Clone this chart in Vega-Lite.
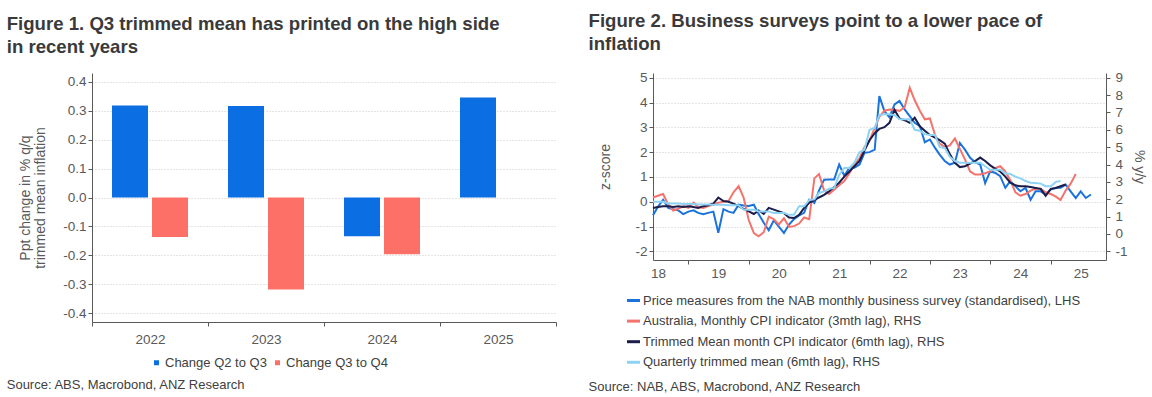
{
  "$schema": "https://vega.github.io/schema/vega-lite/v6.json",
  "padding": {"left": 6, "top": 11, "right": 4, "bottom": 4},
  "spacing": 31,
  "config": {
    "font": "Liberation Sans",
    "view": {"stroke": null},
    "axis": {"labelFont": "Liberation Sans", "labelColor": "#595959", "labelFontSize": 13.5, "titleFont": "Liberation Sans", "titleFontWeight": "normal", "titleColor": "#595959", "titleFontSize": 14, "domainColor": "#595959", "tickColor": "#595959", "gridColor": "#c8c8c8", "gridDash": [1, 2], "labelFlush": false, "labelOverlap": false},
    "legend": {"labelFont": "Liberation Sans", "labelFontSize": 13, "labelColor": "#404040", "labelLimit": 0},
    "title": {"font": "Liberation Sans", "fontSize": 18.6, "fontWeight": "bold", "color": "#3a3a3a", "anchor": "start", "lineHeight": 23.5}
  },
  "datasets": {
    "bars": [
      {"year": "2022", "s": "Change Q2 to Q3", "v": 0.318},
      {"year": "2022", "s": "Change Q3 to Q4", "v": -0.136},
      {"year": "2023", "s": "Change Q2 to Q3", "v": 0.316},
      {"year": "2023", "s": "Change Q3 to Q4", "v": -0.318},
      {"year": "2024", "s": "Change Q2 to Q3", "v": -0.134},
      {"year": "2024", "s": "Change Q3 to Q4", "v": -0.196},
      {"year": "2025", "s": "Change Q2 to Q3", "v": 0.345}
    ],
    "nab": [
      {"d": "2018-06-01", "v": -0.55}, {"d": "2018-07-01", "v": -0.2}, {"d": "2018-08-01", "v": 0.08}, {"d": "2018-09-01", "v": -0.25}, {"d": "2018-10-01", "v": -0.3}, {"d": "2018-11-01", "v": -0.35}, {"d": "2018-12-01", "v": -0.5},
      {"d": "2019-01-01", "v": -0.4}, {"d": "2019-02-01", "v": -0.35}, {"d": "2019-03-01", "v": -0.45}, {"d": "2019-04-01", "v": -0.5}, {"d": "2019-05-01", "v": -0.45}, {"d": "2019-06-01", "v": -0.4}, {"d": "2019-07-01", "v": -1.25}, {"d": "2019-08-01", "v": -0.3}, {"d": "2019-09-01", "v": -0.4}, {"d": "2019-10-01", "v": -0.45}, {"d": "2019-11-01", "v": -0.12}, {"d": "2019-12-01", "v": -0.15},
      {"d": "2020-01-01", "v": -0.17}, {"d": "2020-02-01", "v": -0.12}, {"d": "2020-03-01", "v": -0.5}, {"d": "2020-04-01", "v": -0.85}, {"d": "2020-05-01", "v": -1.15}, {"d": "2020-06-01", "v": -0.75}, {"d": "2020-07-01", "v": -1.0}, {"d": "2020-08-01", "v": -1.26}, {"d": "2020-09-01", "v": -0.92}, {"d": "2020-10-01", "v": -0.7}, {"d": "2020-11-01", "v": -0.55}, {"d": "2020-12-01", "v": -0.45},
      {"d": "2021-01-01", "v": 0.08}, {"d": "2021-02-01", "v": -0.05}, {"d": "2021-03-01", "v": 0.45}, {"d": "2021-04-01", "v": 0.89}, {"d": "2021-05-01", "v": 0.9}, {"d": "2021-06-01", "v": 0.9}, {"d": "2021-07-01", "v": 1.5}, {"d": "2021-08-01", "v": 1.05}, {"d": "2021-09-01", "v": 1.37}, {"d": "2021-10-01", "v": 1.37}, {"d": "2021-11-01", "v": 1.5}, {"d": "2021-12-01", "v": 1.97},
      {"d": "2022-01-01", "v": 2.0}, {"d": "2022-02-01", "v": 2.1}, {"d": "2022-03-01", "v": 4.26}, {"d": "2022-04-01", "v": 3.65}, {"d": "2022-05-01", "v": 3.4}, {"d": "2022-06-01", "v": 3.92}, {"d": "2022-07-01", "v": 4.06}, {"d": "2022-08-01", "v": 3.72}, {"d": "2022-09-01", "v": 3.45}, {"d": "2022-10-01", "v": 3.18}, {"d": "2022-11-01", "v": 3.05}, {"d": "2022-12-01", "v": 2.4},
      {"d": "2023-01-01", "v": 2.51}, {"d": "2023-02-01", "v": 2.17}, {"d": "2023-03-01", "v": 1.9}, {"d": "2023-04-01", "v": 1.64}, {"d": "2023-05-01", "v": 1.5}, {"d": "2023-06-01", "v": 1.57}, {"d": "2023-07-01", "v": 2.37}, {"d": "2023-08-01", "v": 2.1}, {"d": "2023-09-01", "v": 1.77}, {"d": "2023-10-01", "v": 1.6}, {"d": "2023-11-01", "v": 1.5}, {"d": "2023-12-01", "v": 0.75},
      {"d": "2024-01-01", "v": 1.23}, {"d": "2024-02-01", "v": 1.16}, {"d": "2024-03-01", "v": 1.03}, {"d": "2024-04-01", "v": 0.56}, {"d": "2024-05-01", "v": 0.83}, {"d": "2024-06-01", "v": 0.63}, {"d": "2024-07-01", "v": 0.42}, {"d": "2024-08-01", "v": 0.56}, {"d": "2024-09-01", "v": 0.08}, {"d": "2024-10-01", "v": 0.42}, {"d": "2024-11-01", "v": 0.42}, {"d": "2024-12-01", "v": 0.29},
      {"d": "2025-01-01", "v": 0.49}, {"d": "2025-02-01", "v": 0.56}, {"d": "2025-03-01", "v": 0.56}, {"d": "2025-04-01", "v": 0.69}, {"d": "2025-05-01", "v": 0.42}, {"d": "2025-06-01", "v": 0.15}, {"d": "2025-07-01", "v": 0.42}, {"d": "2025-08-01", "v": 0.15}, {"d": "2025-09-01", "v": 0.29}
    ],
    "cpi": [
      {"d": "2018-06-01", "v": 2.1}, {"d": "2018-07-01", "v": 2.2}, {"d": "2018-08-01", "v": 2.3}, {"d": "2018-09-01", "v": 1.7}, {"d": "2018-10-01", "v": 1.35}, {"d": "2018-11-01", "v": 1.45}, {"d": "2018-12-01", "v": 1.6},
      {"d": "2019-01-01", "v": 1.5}, {"d": "2019-02-01", "v": 1.8}, {"d": "2019-03-01", "v": 1.55}, {"d": "2019-04-01", "v": 1.5}, {"d": "2019-05-01", "v": 1.6}, {"d": "2019-06-01", "v": 1.7}, {"d": "2019-07-01", "v": 1.8}, {"d": "2019-08-01", "v": 1.85}, {"d": "2019-09-01", "v": 1.9}, {"d": "2019-10-01", "v": 2.4}, {"d": "2019-11-01", "v": 2.75}, {"d": "2019-12-01", "v": 2.1},
      {"d": "2020-01-01", "v": 0.8}, {"d": "2020-02-01", "v": 0.05}, {"d": "2020-03-01", "v": -0.13}, {"d": "2020-04-01", "v": 0.1}, {"d": "2020-05-01", "v": 1.0}, {"d": "2020-06-01", "v": 0.85}, {"d": "2020-07-01", "v": 0.55}, {"d": "2020-08-01", "v": 0.9}, {"d": "2020-09-01", "v": 0.4}, {"d": "2020-10-01", "v": 0.45}, {"d": "2020-11-01", "v": 0.6}, {"d": "2020-12-01", "v": 0.95},
      {"d": "2021-01-01", "v": 0.85}, {"d": "2021-02-01", "v": 3.2}, {"d": "2021-03-01", "v": 3.45}, {"d": "2021-04-01", "v": 2.5}, {"d": "2021-05-01", "v": 2.3}, {"d": "2021-06-01", "v": 2.55}, {"d": "2021-07-01", "v": 2.8}, {"d": "2021-08-01", "v": 3.05}, {"d": "2021-09-01", "v": 3.5}, {"d": "2021-10-01", "v": 4.0}, {"d": "2021-11-01", "v": 4.35}, {"d": "2021-12-01", "v": 5.0},
      {"d": "2022-01-01", "v": 5.4}, {"d": "2022-02-01", "v": 6.1}, {"d": "2022-03-01", "v": 6.75}, {"d": "2022-04-01", "v": 7.1}, {"d": "2022-05-01", "v": 7.17}, {"d": "2022-06-01", "v": 7.15}, {"d": "2022-07-01", "v": 7.08}, {"d": "2022-08-01", "v": 7.3}, {"d": "2022-09-01", "v": 8.42}, {"d": "2022-10-01", "v": 7.7}, {"d": "2022-11-01", "v": 7.1}, {"d": "2022-12-01", "v": 6.6},
      {"d": "2023-01-01", "v": 6.65}, {"d": "2023-02-01", "v": 5.7}, {"d": "2023-03-01", "v": 5.2}, {"d": "2023-04-01", "v": 5.0}, {"d": "2023-05-01", "v": 5.1}, {"d": "2023-06-01", "v": 5.5}, {"d": "2023-07-01", "v": 4.9}, {"d": "2023-08-01", "v": 4.3}, {"d": "2023-09-01", "v": 3.6}, {"d": "2023-10-01", "v": 3.42}, {"d": "2023-11-01", "v": 3.42}, {"d": "2023-12-01", "v": 3.5},
      {"d": "2024-01-01", "v": 3.6}, {"d": "2024-02-01", "v": 3.8}, {"d": "2024-03-01", "v": 3.9}, {"d": "2024-04-01", "v": 3.6}, {"d": "2024-05-01", "v": 3.1}, {"d": "2024-06-01", "v": 2.4}, {"d": "2024-07-01", "v": 2.2}, {"d": "2024-08-01", "v": 2.3}, {"d": "2024-09-01", "v": 2.5}, {"d": "2024-10-01", "v": 2.6}, {"d": "2024-11-01", "v": 2.6}, {"d": "2024-12-01", "v": 2.4},
      {"d": "2025-01-01", "v": 2.3}, {"d": "2025-02-01", "v": 2.15}, {"d": "2025-03-01", "v": 1.95}, {"d": "2025-04-01", "v": 2.5}, {"d": "2025-05-01", "v": 2.9}, {"d": "2025-06-01", "v": 3.45}
    ],
    "tm": [
      {"d": "2018-06-01", "v": 1.5}, {"d": "2018-07-01", "v": 1.55}, {"d": "2018-08-01", "v": 1.6}, {"d": "2018-09-01", "v": 1.6}, {"d": "2018-10-01", "v": 1.55}, {"d": "2018-11-01", "v": 1.6}, {"d": "2018-12-01", "v": 1.55},
      {"d": "2019-01-01", "v": 1.6}, {"d": "2019-02-01", "v": 1.55}, {"d": "2019-03-01", "v": 1.5}, {"d": "2019-04-01", "v": 1.6}, {"d": "2019-05-01", "v": 1.65}, {"d": "2019-06-01", "v": 1.75}, {"d": "2019-07-01", "v": 2.1}, {"d": "2019-08-01", "v": 1.9}, {"d": "2019-09-01", "v": 1.85}, {"d": "2019-10-01", "v": 1.75}, {"d": "2019-11-01", "v": 1.6}, {"d": "2019-12-01", "v": 1.45},
      {"d": "2020-01-01", "v": 1.3}, {"d": "2020-02-01", "v": 1.15}, {"d": "2020-03-01", "v": 1.35}, {"d": "2020-04-01", "v": 1.15}, {"d": "2020-05-01", "v": 1.5}, {"d": "2020-06-01", "v": 1.4}, {"d": "2020-07-01", "v": 1.3}, {"d": "2020-08-01", "v": 1.2}, {"d": "2020-09-01", "v": 0.95}, {"d": "2020-10-01", "v": 0.92}, {"d": "2020-11-01", "v": 1.1}, {"d": "2020-12-01", "v": 1.5},
      {"d": "2021-01-01", "v": 1.8}, {"d": "2021-02-01", "v": 1.95}, {"d": "2021-03-01", "v": 2.1}, {"d": "2021-04-01", "v": 2.25}, {"d": "2021-05-01", "v": 2.45}, {"d": "2021-06-01", "v": 2.7}, {"d": "2021-07-01", "v": 2.95}, {"d": "2021-08-01", "v": 3.3}, {"d": "2021-09-01", "v": 3.6}, {"d": "2021-10-01", "v": 3.9}, {"d": "2021-11-01", "v": 4.2}, {"d": "2021-12-01", "v": 4.8},
      {"d": "2022-01-01", "v": 5.4}, {"d": "2022-02-01", "v": 5.8}, {"d": "2022-03-01", "v": 6.05}, {"d": "2022-04-01", "v": 6.15}, {"d": "2022-05-01", "v": 6.4}, {"d": "2022-06-01", "v": 7.15}, {"d": "2022-07-01", "v": 6.65}, {"d": "2022-08-01", "v": 6.55}, {"d": "2022-09-01", "v": 6.4}, {"d": "2022-10-01", "v": 6.7}, {"d": "2022-11-01", "v": 6.2}, {"d": "2022-12-01", "v": 5.95},
      {"d": "2023-01-01", "v": 5.7}, {"d": "2023-02-01", "v": 5.55}, {"d": "2023-03-01", "v": 5.4}, {"d": "2023-04-01", "v": 5.2}, {"d": "2023-05-01", "v": 4.6}, {"d": "2023-06-01", "v": 4.1}, {"d": "2023-07-01", "v": 3.85}, {"d": "2023-08-01", "v": 3.9}, {"d": "2023-09-01", "v": 4.05}, {"d": "2023-10-01", "v": 4.2}, {"d": "2023-11-01", "v": 4.4}, {"d": "2023-12-01", "v": 4.2},
      {"d": "2024-01-01", "v": 3.95}, {"d": "2024-02-01", "v": 3.75}, {"d": "2024-03-01", "v": 3.6}, {"d": "2024-04-01", "v": 3.3}, {"d": "2024-05-01", "v": 2.95}, {"d": "2024-06-01", "v": 2.8}, {"d": "2024-07-01", "v": 2.75}, {"d": "2024-08-01", "v": 2.75}, {"d": "2024-09-01", "v": 2.7}, {"d": "2024-10-01", "v": 2.65}, {"d": "2024-11-01", "v": 2.6}, {"d": "2024-12-01", "v": 2.2},
      {"d": "2025-01-01", "v": 2.6}, {"d": "2025-02-01", "v": 2.65}, {"d": "2025-03-01", "v": 2.75}, {"d": "2025-04-01", "v": 2.85}
    ],
    "qtm": [
      {"d": "2018-06-01", "v": 1.85}, {"d": "2018-07-01", "v": 1.85}, {"d": "2018-08-01", "v": 1.85}, {"d": "2018-09-01", "v": 1.75}, {"d": "2018-10-01", "v": 1.75}, {"d": "2018-11-01", "v": 1.75}, {"d": "2018-12-01", "v": 1.72},
      {"d": "2019-01-01", "v": 1.72}, {"d": "2019-02-01", "v": 1.72}, {"d": "2019-03-01", "v": 1.7}, {"d": "2019-04-01", "v": 1.7}, {"d": "2019-05-01", "v": 1.7}, {"d": "2019-06-01", "v": 1.68}, {"d": "2019-07-01", "v": 1.68}, {"d": "2019-08-01", "v": 1.68}, {"d": "2019-09-01", "v": 1.65}, {"d": "2019-10-01", "v": 1.65}, {"d": "2019-11-01", "v": 1.65}, {"d": "2019-12-01", "v": 1.4},
      {"d": "2020-01-01", "v": 1.4}, {"d": "2020-02-01", "v": 1.4}, {"d": "2020-03-01", "v": 1.3}, {"d": "2020-04-01", "v": 1.3}, {"d": "2020-05-01", "v": 1.3}, {"d": "2020-06-01", "v": 1.2}, {"d": "2020-07-01", "v": 1.2}, {"d": "2020-08-01", "v": 1.2}, {"d": "2020-09-01", "v": 1.1}, {"d": "2020-10-01", "v": 1.1}, {"d": "2020-11-01", "v": 1.6}, {"d": "2020-12-01", "v": 1.6},
      {"d": "2021-01-01", "v": 1.95}, {"d": "2021-02-01", "v": 2.0}, {"d": "2021-03-01", "v": 2.36}, {"d": "2021-04-01", "v": 2.45}, {"d": "2021-05-01", "v": 2.6}, {"d": "2021-06-01", "v": 2.65}, {"d": "2021-07-01", "v": 3.4}, {"d": "2021-08-01", "v": 3.8}, {"d": "2021-09-01", "v": 3.8}, {"d": "2021-10-01", "v": 4.1}, {"d": "2021-11-01", "v": 4.7}, {"d": "2021-12-01", "v": 4.85},
      {"d": "2022-01-01", "v": 6.0}, {"d": "2022-02-01", "v": 6.1}, {"d": "2022-03-01", "v": 6.85}, {"d": "2022-04-01", "v": 6.9}, {"d": "2022-05-01", "v": 6.9}, {"d": "2022-06-01", "v": 6.85}, {"d": "2022-07-01", "v": 6.6}, {"d": "2022-08-01", "v": 6.6}, {"d": "2022-09-01", "v": 6.6}, {"d": "2022-10-01", "v": 6.0}, {"d": "2022-11-01", "v": 5.95}, {"d": "2022-12-01", "v": 5.75},
      {"d": "2023-01-01", "v": 5.7}, {"d": "2023-02-01", "v": 5.7}, {"d": "2023-03-01", "v": 5.0}, {"d": "2023-04-01", "v": 4.95}, {"d": "2023-05-01", "v": 4.45}, {"d": "2023-06-01", "v": 4.2}, {"d": "2023-07-01", "v": 4.1}, {"d": "2023-08-01", "v": 4.1}, {"d": "2023-09-01", "v": 4.1}, {"d": "2023-10-01", "v": 4.1}, {"d": "2023-11-01", "v": 4.1}, {"d": "2023-12-01", "v": 3.9},
      {"d": "2024-01-01", "v": 3.7}, {"d": "2024-02-01", "v": 3.7}, {"d": "2024-03-01", "v": 3.7}, {"d": "2024-04-01", "v": 3.5}, {"d": "2024-05-01", "v": 3.45}, {"d": "2024-06-01", "v": 3.3}, {"d": "2024-07-01", "v": 3.2}, {"d": "2024-08-01", "v": 3.05}, {"d": "2024-09-01", "v": 2.95}, {"d": "2024-10-01", "v": 2.94}, {"d": "2024-11-01", "v": 2.9}, {"d": "2024-12-01", "v": 2.75},
      {"d": "2025-01-01", "v": 2.75}, {"d": "2025-02-01", "v": 3.0}, {"d": "2025-03-01", "v": 3.05}
    ]
  },
  "hconcat": [
    {
      "title": {"text": "Source: ABS, Macrobond, ANZ Research", "orient": "bottom", "anchor": "start", "fontSize": 13, "fontWeight": "normal", "color": "#404040", "offset": 9},
      "vconcat": [
        {
          "title": {"text": ["Figure 1. Q3 trimmed mean has printed on the high side", "in recent years"], "dx": -12, "offset": 16},
          "width": 464,
          "height": 249,
          "data": {"name": "bars"},
          "mark": {"type": "bar"},
          "encoding": {
            "x": {"field": "year", "type": "nominal", "scale": {"paddingInner": 0, "paddingOuter": 0},
              "axis": {"title": null, "labelAngle": 0, "tickBand": "extent", "tickSize": 4, "grid": false, "labelPadding": 6}},
            "xOffset": {"field": "s", "type": "nominal", "scale": {"paddingInner": 0.1, "paddingOuter": 0.5}},
            "y": {"field": "v", "type": "quantitative", "scale": {"domain": [-0.43, 0.43], "nice": false, "zero": false},
              "axis": {"values": [-0.4, -0.3, -0.2, -0.1, 0, 0.1, 0.2, 0.3, 0.4], "labelExpr": "datum.value < 0 ? '-' + format(-datum.value, '.1f') : format(datum.value, '.1f')", "title": ["Ppt change in % q/q", "trimmed mean inflation"], "titleLineHeight": 15, "grid": true, "tickSize": 4, "titlePadding": 15}},
            "color": {"field": "s", "type": "nominal", "scale": {"domain": ["Change Q2 to Q3", "Change Q3 to Q4"], "range": ["#0b6fe3", "#fd7068"]},
              "legend": {"title": null, "orient": "none", "direction": "horizontal", "legendX": 58, "legendY": 283, "symbolType": "square", "symbolSize": 25, "labelOffset": 2, "columnPadding": 4}}
          }
        }
      ]
    },
    {
      "title": {"text": "Source: NAB, ABS, Macrobond, ANZ Research", "orient": "bottom", "anchor": "start", "fontSize": 13, "fontWeight": "normal", "color": "#404040", "offset": 11},
      "vconcat": [
        {
          "title": {"text": ["Figure 2. Business surveys point to a lower pace of", "inflation"], "dx": -10.4, "offset": 17},
          "width": 453,
          "height": 187,
          "layer": [
            {
              "data": {"name": "nab"},
              "mark": {"type": "line", "strokeWidth": 2},
              "encoding": {
                "x": {"field": "d", "type": "temporal", "scale": {"domain": [{"year": 2018, "month": 6, "date": 1}, {"year": 2025, "month": 12, "date": 1}]},
                  "axis": {"title": null, "orient": "bottom", "values": [{"year": 2019, "month": 1, "date": 1}, {"year": 2020, "month": 1, "date": 1}, {"year": 2021, "month": 1, "date": 1}, {"year": 2022, "month": 1, "date": 1}, {"year": 2023, "month": 1, "date": 1}, {"year": 2024, "month": 1, "date": 1}, {"year": 2025, "month": 1, "date": 1}], "labels": false, "tickSize": 4, "grid": false}},
                "y": {"field": "v", "type": "quantitative", "scale": {"domain": [-2.35, 5.19], "nice": false, "zero": false},
                  "axis": {"title": "z-score", "values": [-2, -1, 0, 1, 2, 3, 4, 5], "labelExpr": "datum.value < 0 ? '-' + format(-datum.value, 'd') : format(datum.value, 'd')", "grid": true, "tickSize": 4, "titlePadding": 22, "labelOverlap": false}},
                "color": {"datum": "Price measures from the NAB monthly business survey (standardised), LHS", "type": "nominal",
                  "scale": {"domain": ["Price measures from the NAB monthly business survey (standardised), LHS", "Australia, Monthly CPI indicator (3mth lag), RHS", "Trimmed Mean month CPI indicator (6mth lag), RHS", "Quarterly trimmed mean (6mth lag), RHS"], "range": ["#1a73dc", "#f4736c", "#1b1d4a", "#8fd3f4"]},
                  "legend": {"title": null, "orient": "none", "direction": "vertical", "legendX": -28, "legendY": 219, "symbolType": "stroke", "symbolSize": 170, "symbolStrokeWidth": 3, "labelOffset": 1, "rowPadding": 4.6}}
              }
            },
            {
              "encoding": {
                "x": {"field": "d", "type": "temporal", "scale": {"domain": [{"year": 2018, "month": 6, "date": 1}, {"year": 2025, "month": 12, "date": 1}]},
                  "axis": {"title": null, "orient": "bottom", "values": [{"year": 2018, "month": 7, "date": 1}, {"year": 2019, "month": 7, "date": 1}, {"year": 2020, "month": 7, "date": 1}, {"year": 2021, "month": 7, "date": 1}, {"year": 2022, "month": 7, "date": 1}, {"year": 2023, "month": 7, "date": 1}, {"year": 2024, "month": 7, "date": 1}, {"year": 2025, "month": 7, "date": 1}], "format": "%y", "ticks": false, "domain": false, "grid": false, "labelPadding": 6}},
                "y": {"field": "v", "type": "quantitative", "scale": {"domain": [-1.5, 9.27], "nice": false, "zero": false},
                  "axis": {"orient": "right", "title": "% y/y", "values": [-1, 0, 1, 2, 3, 4, 5, 6, 7, 8, 9], "labelExpr": "datum.value < 0 ? '-' + format(-datum.value, 'd') : format(datum.value, 'd')", "grid": false, "tickSize": 4, "labelPadding": 5, "titlePadding": 4, "labelOverlap": false}}
              },
              "layer": [
                {
                  "data": {"name": "cpi"},
                  "mark": {"type": "line", "strokeWidth": 2},
                  "encoding": {"color": {"datum": "Australia, Monthly CPI indicator (3mth lag), RHS", "type": "nominal"}}
                },
                {
                  "data": {"name": "tm"},
                  "mark": {"type": "line", "strokeWidth": 2},
                  "encoding": {"color": {"datum": "Trimmed Mean month CPI indicator (6mth lag), RHS", "type": "nominal"}}
                },
                {
                  "data": {"name": "qtm"},
                  "mark": {"type": "line", "strokeWidth": 2},
                  "encoding": {"color": {"datum": "Quarterly trimmed mean (6mth lag), RHS", "type": "nominal"}}
                }
              ]
            }
          ],
          "resolve": {"scale": {"y": "independent"}, "axis": {"x": "independent"}}
        }
      ]
    }
  ],
  "resolve": {"scale": {"color": "independent"}, "legend": {"color": "independent"}}
}
